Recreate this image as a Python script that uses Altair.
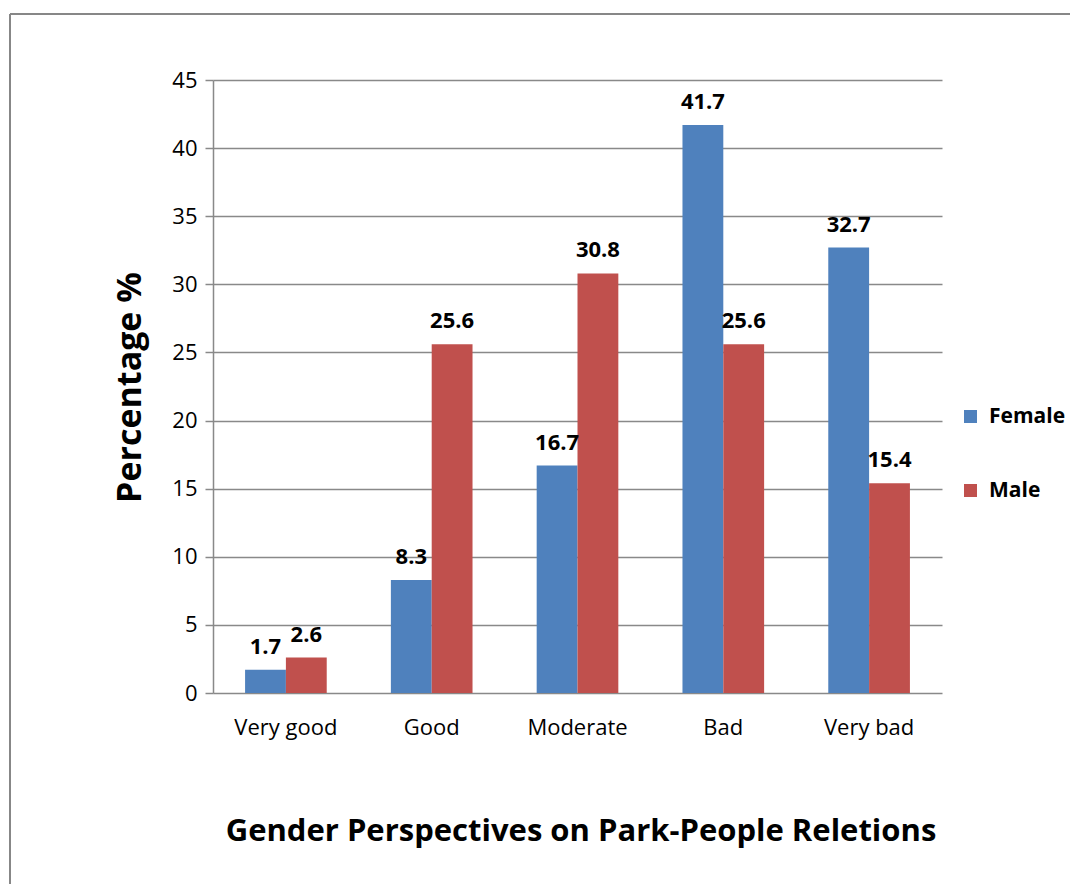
import altair as alt
import pandas as pd

categories = ["Very good", "Good", "Moderate", "Bad", "Very bad"]
female = [1.7, 8.3, 16.7, 41.7, 32.7]
male = [2.6, 25.6, 30.8, 25.6, 15.4]
series = ["Female", "Male"]
colors = ["#4F81BD", "#C0504D"]
title_text = "Gender Perspectives on Park-People Reletions"

rows = []
for c, f, m in zip(categories, female, male):
    rows.append({"cat": c, "gender": "Female", "value": f})
    rows.append({"cat": c, "gender": "Male", "value": m})
df = pd.DataFrame(rows)

FONT = "Open Sans"
GRID = "#898989"

x_enc = alt.X("cat:N", sort=categories, title=None,
              scale=alt.Scale(paddingInner=0.44, paddingOuter=0.22),
              axis=alt.Axis(labelAngle=0, labelFontSize=22, labelFont=FONT, labelColor="#000000",
                            domain=False, ticks=False, labelPadding=24))
y_enc = alt.Y("value:Q", title="Percentage %",
              scale=alt.Scale(domain=[0, 45]),
              axis=alt.Axis(values=list(range(0, 46, 5)), labelFontSize=22, labelFont=FONT,
                            labelColor="#000000", labelPadding=8,
                            gridColor=GRID, gridWidth=1.5, domainColor=GRID, domainWidth=1.5,
                            tickColor=GRID, tickSize=8, tickWidth=1.5,
                            titleFont=FONT, titleFontSize=34, titleFontWeight="bold",
                            titleColor="#000000", titleAngle=-90, titleX=-83, titleY=307,
                            titleBaseline="middle", titleAlign="center"))

base = alt.Chart(df).encode(
    x=x_enc,
    xOffset=alt.XOffset("gender:N", sort=series),
)

bars = base.mark_bar().encode(
    y=y_enc,
    color=alt.Color("gender:N", sort=series, title=None,
                    scale=alt.Scale(domain=series, range=colors),
                    legend=alt.Legend(orient="none", legendX=747, legendY=326,
                                      symbolType="square", symbolSize=169,
                                      symbolStrokeWidth=0, labelFont=FONT,
                                      labelFontSize=21, labelFontWeight="bold",
                                      labelColor="#000000", rowPadding=52,
                                      labelOffset=8)),
)

labels = base.mark_text(baseline="bottom", dy=-11, fontSize=22, fontWeight="bold",
                        font=FONT, color="#000000").encode(
    y=alt.Y("value:Q"),
    text=alt.Text("value:Q", format=".1f"),
)

title_df = pd.DataFrame({"t": [title_text]})
title_mark = alt.Chart(title_df).mark_text(font=FONT, fontSize=31, fontWeight="bold",
                                           color="#000000", baseline="middle",
                                           align="center").encode(
    text="t:N", x=alt.value(368), y=alt.value(752))

border_left = alt.Chart(df).mark_rule(color="#878787", strokeWidth=2).encode(
    x=alt.value(-203), y=alt.value(-66), y2=alt.value(804))
border_top = alt.Chart(df).mark_rule(color="#878787", strokeWidth=2).encode(
    y=alt.value(-66), x=alt.value(-203), x2=alt.value(857))

chart = alt.layer(bars, labels, title_mark, border_left, border_top).properties(
    width=729, height=613,
    autosize=alt.AutoSizeParams(type="none"),
    padding={"left": 213, "top": 80, "right": 128, "bottom": 191},
    background="#ffffff",
).configure_view(stroke=None, strokeWidth=0)

chart.save("out.html", embed_options={"renderer": "svg", "actions": False})
